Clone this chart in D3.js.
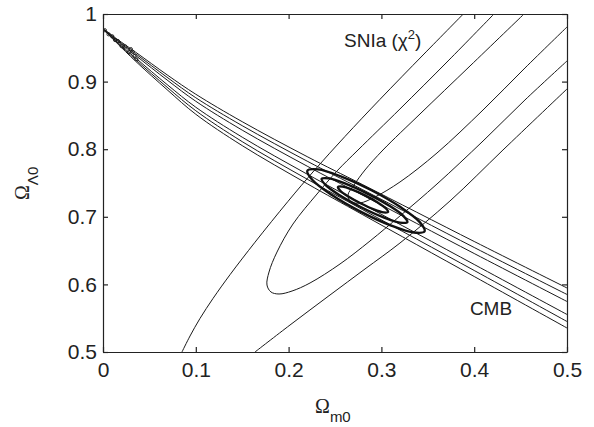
<!DOCTYPE html>
<html>
<head>
<meta charset="utf-8">
<script src="https://cdnjs.cloudflare.com/ajax/libs/d3/7.8.5/d3.min.js"></script>
<style>
  body { margin: 0; background: #fff; }
  .axis text { font-family: "Liberation Sans", Arial, Helvetica, sans-serif; font-size: 21px; fill: #222; }
  .axis path, .axis line { stroke: #222; stroke-width: 1.2; }
</style>
</head>
<body>
<div id="chart-container"></div>
<script>
const MARGIN = { left: 103, right: 27, top: 14, bottom: 75 };
const WIDTH = 594 - MARGIN.left - MARGIN.right;
const HEIGHT = 427 - MARGIN.top - MARGIN.bottom;

const xTicks = [0, 0.1, 0.2, 0.3, 0.4, 0.5];
const yTicks = [0.5, 0.6, 0.7, 0.8, 0.9, 1];

// CMB contours [Om0, OL0], upper side then back along the lower side
const cmbOuter = [[0.5,0.5947],[0.4,0.6635],[0.28,0.7474],[0.22,0.7890],[0.15,0.8407],[0.1,0.8813],[0.07,0.9091],[0.035,0.9437],[0.015,0.9630],[0,0.9780],
  [0.015,0.9570],[0.035,0.9303],[0.07,0.8869],[0.1,0.8517],[0.15,0.8053],[0.22,0.7490],[0.28,0.7030],[0.4,0.6117],[0.5,0.5355]];
const cmbMiddle = [[0.5,0.5851],[0.4,0.6546],[0.28,0.7400],[0.22,0.7823],[0.15,0.8348],[0.1,0.8761],[0.07,0.9054],[0.035,0.9414],[0.015,0.9619],[0,0.9780],
  [0.015,0.9581],[0.035,0.9326],[0.07,0.8906],[0.1,0.8569],[0.15,0.8112],[0.22,0.7557],[0.28,0.7104],[0.4,0.6206],[0.5,0.5451]];
const cmbInner = [[0.5,0.5747],[0.4,0.6457],[0.28,0.7319],[0.22,0.7749],[0.15,0.8282],[0.1,0.8709],[0.07,0.9014],[0.035,0.9389],[0.015,0.9609],[0.002,0.9756],
  [0.015,0.9591],[0.035,0.9351],[0.07,0.8946],[0.1,0.8621],[0.15,0.8178],[0.22,0.7631],[0.28,0.7185],[0.4,0.6295],[0.5,0.5555]];
// little rings where the CMB contours pile up near Om0 = 0
const cmbBeads = [[0.002,0.9760],[0.006,0.9700],[0.010,0.9670],[0.013,0.9615],[0.016,0.9600],[0.020,0.9525],
  [0.024,0.9520],[0.028,0.9435],[0.030,0.9480],[0.032,0.9440],[0.034,0.9380],[0.036,0.9330]];

// SNIa chi^2 contours
const snOuterLeft = [[0.0851,0.5],[0.0938,0.5237],[0.1045,0.5496],[0.1185,0.5791],[0.1369,0.6144],[0.1638,0.6624],
  [0.1994,0.7229],[0.2284,0.7697],[0.2608,0.8189],[0.2985,0.8738],[0.3459,0.9408],[0.3912,1.0041]];
const snOuterRight = [[0.1638,0.5],[0.2015,0.5399],[0.2446,0.5843],[0.2823,0.6228],[0.3200,0.6612],[0.3739,0.7234],
  [0.4310,0.7988],[0.5,0.8891]];
const snMiddle = [[0.4213,1.0],[0.3718,0.9305],[0.3200,0.8595],[0.2748,0.7988],[0.2522,0.7678],[0.2306,0.7337],[0.2047,0.6893],
  [0.1875,0.6479],[0.1789,0.6183],[0.1767,0.5991],[0.1810,0.5888],[0.1897,0.5858],[0.2037,0.5902],[0.2231,0.6021],
  [0.2554,0.6302],[0.2877,0.6642],[0.3200,0.7012],[0.3599,0.7485],[0.4095,0.8121],[0.4547,0.8728],[0.5,0.9305]];
const snInner = [[0.4537,1.0],[0.3955,0.9231],[0.3416,0.8521],[0.3017,0.7988],[0.2823,0.7692],[0.2705,0.7470],[0.2640,0.7322],
  [0.2672,0.7219],[0.2769,0.7204],[0.2931,0.7293],[0.3200,0.7515],[0.3599,0.7944],[0.4095,0.8580],[0.4547,0.9201],[0.5,0.9808]];

// joint constraint contours (thick)
const jointOuter = [[0.3466,0.6786],[0.3351,0.6767],[0.3099,0.6873],[0.2775,0.7076],[0.2467,0.7321],[0.2257,0.7543],
  [0.2202,0.7682],[0.2317,0.7701],[0.2569,0.7595],[0.2893,0.7392],[0.3201,0.7147],[0.3411,0.6925]];
const jointMiddle = [[0.3280,0.6921],[0.3200,0.6914],[0.3017,0.6995],[0.2782,0.7142],[0.2555,0.7315],[0.2400,0.7468],
  [0.2356,0.7561],[0.2436,0.7568],[0.2619,0.7487],[0.2854,0.7340],[0.3081,0.7167],[0.3236,0.7014]];
const jointInner = [[0.3072,0.7071],[0.3025,0.7066],[0.2918,0.7111],[0.2780,0.7197],[0.2648,0.7297],[0.2557,0.7386],
  [0.2532,0.7441],[0.2579,0.7446],[0.2686,0.7401],[0.2824,0.7316],[0.2956,0.7215],[0.3047,0.7126]];

const snLabelPos = [0.2597, 0.9512];
const cmbLabelPos = [0.4181, 0.5547];

const svg = d3.select("#chart-container").append("svg")
  .attr("width", WIDTH + MARGIN.left + MARGIN.right)
  .attr("height", HEIGHT + MARGIN.top + MARGIN.bottom);

const g = svg.append("g")
  .attr("transform", `translate(${MARGIN.left},${MARGIN.top})`);

const x = d3.scaleLinear().domain([0, 0.5]).range([0, WIDTH]);
const y = d3.scaleLinear().domain([0.5, 1]).range([HEIGHT, 0]);

svg.append("defs").append("clipPath").attr("id", "plot-clip")
  .append("rect").attr("width", WIDTH).attr("height", HEIGHT);

const plot = g.append("g").attr("clip-path", "url(#plot-clip)");

const line = d3.line()
  .x(d => x(d[0]))
  .y(d => y(d[1]))
  .curve(d3.curveCatmullRom.alpha(0.5));

const closedLine = d3.line()
  .x(d => x(d[0]))
  .y(d => y(d[1]))
  .curve(d3.curveCatmullRomClosed.alpha(0.5));

// thin contours
plot.selectAll("path.thin")
  .data([cmbOuter, cmbMiddle, cmbInner, snOuterLeft, snOuterRight, snMiddle, snInner])
  .enter().append("path")
  .attr("class", "thin")
  .attr("d", line)
  .attr("fill", "none")
  .attr("stroke", "#1a1a1a")
  .attr("stroke-width", 1);

plot.selectAll("circle.bead")
  .data(cmbBeads)
  .enter().append("circle")
  .attr("class", "bead")
  .attr("cx", d => x(d[0]))
  .attr("cy", d => y(d[1]))
  .attr("r", 1.6)
  .attr("fill", "none")
  .attr("stroke", "#1a1a1a")
  .attr("stroke-width", 0.9);

// thick joint contours
plot.selectAll("path.thick")
  .data([jointOuter, jointMiddle, jointInner])
  .enter().append("path")
  .attr("class", "thick")
  .attr("d", closedLine)
  .attr("fill", "none")
  .attr("stroke", "#111")
  .attr("stroke-width", 2.4);

// axes, ticks pointing inwards on all four sides
g.append("g").attr("class", "axis")
  .attr("transform", `translate(0,${HEIGHT})`)
  .call(d3.axisBottom(x).tickValues(xTicks).tickFormat(d => String(d))
    .tickSizeInner(-5).tickSizeOuter(0).tickPadding(10));

g.append("g").attr("class", "axis")
  .call(d3.axisLeft(y).tickValues(yTicks).tickFormat(d => String(d))
    .tickSizeInner(-5).tickSizeOuter(0).tickPadding(6));

g.append("g").attr("class", "axis")
  .call(d3.axisTop(x).tickValues(xTicks).tickFormat("")
    .tickSizeInner(-5).tickSizeOuter(0));

g.append("g").attr("class", "axis")
  .attr("transform", `translate(${WIDTH},0)`)
  .call(d3.axisRight(y).tickValues(yTicks).tickFormat("")
    .tickSizeInner(-5).tickSizeOuter(0));

// in-plot labels
const sn = g.append("text")
  .attr("x", x(snLabelPos[0]))
  .attr("y", y(snLabelPos[1]))
  .style("font-family", "'Liberation Sans', Arial, sans-serif")
  .style("font-size", "19px")
  .attr("fill", "#222");
sn.append("tspan").text("SNIa (\u03c7");
sn.append("tspan").attr("dy", -8).style("font-size", "13px").text("2");
sn.append("tspan").attr("dy", 8).text(")");

g.append("text")
  .attr("x", x(cmbLabelPos[0]))
  .attr("y", y(cmbLabelPos[1]))
  .attr("text-anchor", "middle")
  .style("font-family", "'Liberation Sans', Arial, sans-serif")
  .style("font-size", "19px")
  .attr("fill", "#222")
  .text("CMB");

// axis titles
const xLabel = svg.append("text")
  .attr("x", 315)
  .attr("y", 413)
  .attr("fill", "#222");
xLabel.append("tspan")
  .style("font-family", "'Liberation Serif', 'Times New Roman', serif")
  .style("font-size", "20px")
  .text("\u03a9");
xLabel.append("tspan")
  .attr("dy", 9)
  .style("font-family", "'Liberation Sans', Arial, sans-serif")
  .style("font-size", "15px")
  .text("m0");

const yLabel = svg.append("text")
  .attr("transform", "translate(29,200) rotate(-90)")
  .attr("fill", "#222");
yLabel.append("tspan")
  .style("font-family", "'Liberation Serif', 'Times New Roman', serif")
  .style("font-size", "20px")
  .text("\u03a9");
yLabel.append("tspan")
  .attr("dy", 9)
  .style("font-family", "'Liberation Sans', Arial, sans-serif")
  .style("font-size", "15px")
  .text("\u039b0");
</script>
</body>
</html>
